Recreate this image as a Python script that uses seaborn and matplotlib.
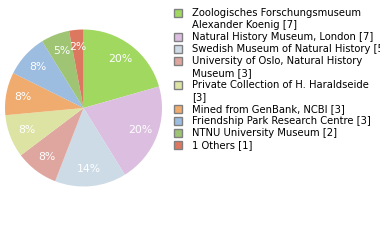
import matplotlib
matplotlib.use("Agg")
import matplotlib.pyplot as plt
import seaborn as sns
from matplotlib.patches import Rectangle

sns.set_style("white")
plt.rcParams['font.family'] = ['DejaVu Sans']

labels = [
    "Zoologisches Forschungsmuseum\nAlexander Koenig [7]",
    "Natural History Museum, London [7]",
    "Swedish Museum of Natural History [5]",
    "University of Oslo, Natural History\nMuseum [3]",
    "Private Collection of H. Haraldseide\n[3]",
    "Mined from GenBank, NCBI [3]",
    "Friendship Park Research Centre [3]",
    "NTNU University Museum [2]",
    "1 Others [1]",
]
values = [7, 7, 5, 3, 3, 3, 3, 2, 1]
colors = ['#a0d860', '#dcbfe0', '#cddbe7', '#dea69e', '#dde3a2',
          '#efac6e', '#9cbce0', '#9ec474', '#dc7860']

W, H = 380, 240
fig = plt.figure(figsize=(W / 100, H / 100), dpi=100)
fig.patch.set_facecolor('white')

cx, cy, r = 83.5, 108, 78.5
ax = fig.add_axes([(cx - r) / W, 1 - (cy + r) / H, 2 * r / W, 2 * r / H])
total = sum(values)
ax.pie(values, colors=colors, startangle=90, counterclock=False,
       autopct=lambda p: f"{int(p * total / 100 + 1e-9) * 100 // total}%",
       pctdistance=0.78, wedgeprops=dict(linewidth=0),
       textprops=dict(color='white', fontsize=7.8))
ax.set_xlim(-1, 1)
ax.set_ylim(-1, 1)
ax.set_aspect('auto')
ax.axis('off')

lax = fig.add_axes([0, 0, 1, 1])
lax.set_xlim(0, W)
lax.set_ylim(H, 0)
lax.axis('off')
y = 13
lh = 12
for lab, col in zip(labels, colors):
    lax.add_patch(Rectangle((174, y - 4), 8, 8, facecolor=col,
                            edgecolor='#808080', linewidth=1))
    lines = lab.split("\n")
    for i, ln in enumerate(lines):
        lax.text(192, y + i * lh, ln, fontsize=7.2, va='center', ha='left',
                 color='black', clip_on=False)
    y += lh * len(lines)

fig.savefig("out.png", dpi=100)
